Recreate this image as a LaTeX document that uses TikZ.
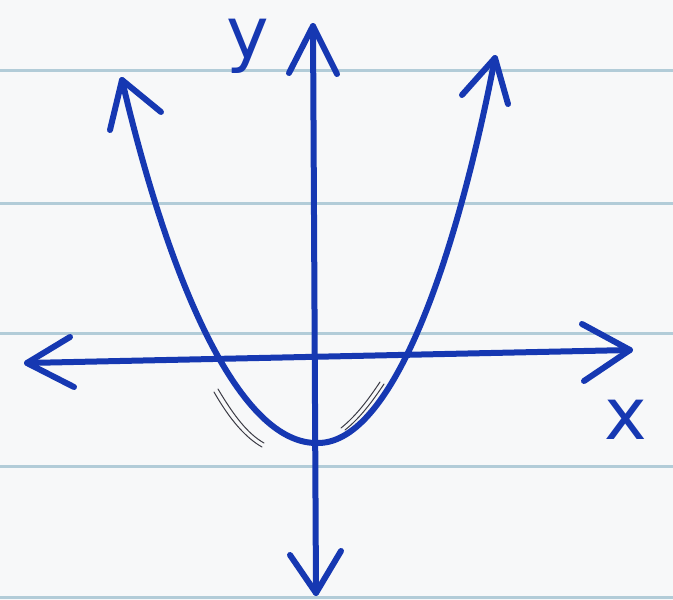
\documentclass[tikz,border=0pt]{standalone}
\usepackage{fontspec}
\newfontfamily\handfont{DejaVu Sans}
\definecolor{ink}{RGB}{22,56,178}
\definecolor{paper}{RGB}{247,248,249}
\definecolor{rule}{RGB}{178,204,216}
\definecolor{pencil}{RGB}{60,60,70}
\tikzset{
  inkline/.style={draw=ink, line width=6pt, line cap=round, line join=round},
  ruleline/.style={draw=rule, line width=3pt},
  sketchline/.style={draw=pencil, line width=1pt, line cap=round},
  label/.style={text=ink, font=\handfont\fontsize{72}{72}\selectfont, inner sep=0pt}
}
\begin{document}
\begin{tikzpicture}[x=1pt,y=-1pt]
\fill[paper] (0,0) rectangle (673,600);
\useasboundingbox (0,0) rectangle (673,600);
% ruled lines
\foreach \yy in {70,203,333,466,597} \draw[ruleline] (0,\yy) -- (673,\yy);
% coordinates
\coordinate (ytop) at (313,26);
\coordinate (ybot) at (316,593);
\coordinate (xleft) at (27,363);
\coordinate (xright) at (630,350);
\coordinate (vertex) at (318,443);
\coordinate (ltip) at (122,80);
\coordinate (rtip) at (495,58);
% pencil sketch marks
\draw[sketchline] (214,392) .. controls (230,420) and (246,438) .. (262,447);
\draw[sketchline] (218,389) .. controls (234,416) and (248,434) .. (264,443);
\draw[sketchline] (380,382) .. controls (368,400) and (356,416) .. (341,428);
\draw[sketchline] (384,384) .. controls (372,402) and (360,418) .. (345,430);
% y axis
\draw[inkline] (ybot) -- (ytop);
\draw[inkline] (289,73) -- (ytop) -- (337,74);
\draw[inkline] (290,555) -- (ybot) -- (341,551);
% x axis
\draw[inkline] (xleft) -- (xright);
\draw[inkline] (70,337) -- (xleft) -- (74,387);
\draw[inkline] (582,324) -- (xright) -- (584,381);
% parabola
\draw[inkline] (ltip) .. controls (170,285) and (240,445) .. (vertex)
  .. controls (395,443) and (458,250) .. (rtip);
\draw[inkline] (110,130) -- (ltip) -- (161,112);
\draw[inkline] (462,95) -- (rtip) -- (508,104);
% labels
\node[label] (ylab) at (248,46) {y};
\node[label] (xlab) at (626,420) {x};
\end{tikzpicture}
\end{document}
